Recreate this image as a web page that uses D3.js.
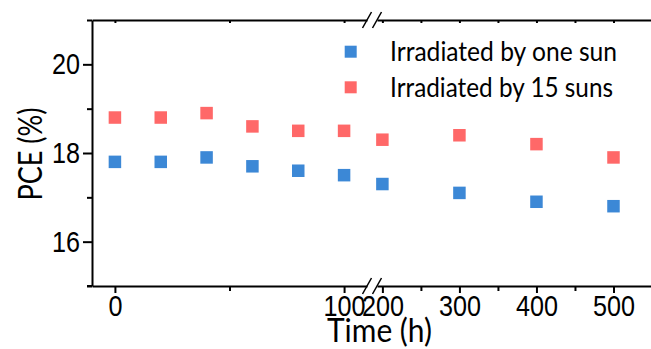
<!DOCTYPE html>
<html>
<head>
<meta charset="utf-8">
<script src="https://cdn.jsdelivr.net/npm/d3@7"></script>
<style>
  html, body { margin: 0; padding: 0; background: #fff; }
  svg { display: block; font-family: Lato, "Open Sans", sans-serif; }
  .axis path, .axis line { stroke: #000; stroke-width: 2px; }
</style>
</head>
<body>
<div id="chart"></div>
<script>
// time (h) and PCE (%)
const hours = [0, 20, 40, 60, 80, 100, 200, 300, 400, 500];
const oneSun = [17.8, 17.8, 17.9, 17.7, 17.6, 17.5, 17.3, 17.1, 16.9, 16.8];
const fifteenSuns = [18.8, 18.8, 18.9, 18.6, 18.5, 18.5, 18.3, 18.4, 18.2, 17.9];
const seriesNames = ['Irradiated by one sun', 'Irradiated by 15 suns'];
const seriesColors = ['#3c88d6', '#ff6868'];
const yTicks = [16, 18, 20];
const yMinor = [15, 17, 19, 21];
const xTicksEarly = [0, 100];
const xMinorEarly = [50];
const xTicksLate = [200, 300, 400, 500];
const xMinorLate = [250, 350, 450];

const W = 651, H = 349;
const svg = d3.select('#chart').append('svg')
  .attr('width', W)
  .attr('height', H);

// broken x axis: two linear pieces
const xl = d3.scaleLinear().domain([-10, 110]).range([92, 367]);
const xr = d3.scaleLinear().domain([193, 550]).range([377, 652]);
const x = t => (t <= 100 ? xl(t) : xr(t));
const y = d3.scaleLinear().domain([15, 21]).range([286, 20]);

const fmt = d3.format('d');
const charW = 14;
function squeeze(sel) {
  sel.selectAll('text')
    .style('font-size', '30px')
    .attr('fill', '#000')
    .attr('textLength', d => fmt(d).length * charW)
    .attr('lengthAdjust', 'spacingAndGlyphs');
}

// y axis
svg.append('g')
  .attr('class', 'axis')
  .attr('transform', 'translate(92,0)')
  .call(d3.axisLeft(y).tickValues(yMinor).tickSize(5).tickSizeOuter(0).tickFormat(''));
svg.append('g')
  .attr('class', 'axis')
  .attr('transform', 'translate(92,0)')
  .call(d3.axisLeft(y).tickValues(yTicks).tickSize(9).tickPadding(3).tickSizeOuter(0).tickFormat(fmt))
  .call(g => g.select('.domain').remove())
  .call(squeeze);

// bottom axes
[[xl, xTicksEarly, xMinorEarly], [xr, xTicksLate, xMinorLate]].forEach(([sc, major, minor]) => {
  svg.append('g')
    .attr('class', 'axis')
    .attr('transform', 'translate(0,286)')
    .call(d3.axisBottom(sc).tickValues(minor).tickSize(5).tickSizeOuter(0).tickFormat(''));
  svg.append('g')
    .attr('class', 'axis')
    .attr('transform', 'translate(0,286)')
    .call(d3.axisBottom(sc).tickValues(major).tickSize(7).tickPadding(2).tickSizeOuter(0).tickFormat(fmt))
    .call(g => g.select('.domain').remove())
    .call(squeeze);
  // top axis, small inward ticks
  svg.append('g')
    .attr('class', 'axis')
    .attr('transform', 'translate(0,20)')
    .call(d3.axisTop(sc).tickValues(major.concat(minor)).tickSize(-3).tickSizeOuter(0).tickFormat(''));
});

// left stub of the bottom axis
svg.append('line')
  .attr('x1', 87).attr('x2', 92)
  .attr('y1', 286).attr('y2', 286)
  .attr('stroke', '#000').attr('stroke-width', 2);

// break marks
[20, 286].forEach(yy => {
  [xl.range()[1], xr.range()[0]].forEach(cx => {
    svg.append('line')
      .attr('x1', cx - 4.5).attr('y1', yy + 8)
      .attr('x2', cx + 4.5).attr('y2', yy - 8)
      .attr('stroke', '#000').attr('stroke-width', 1.5);
  });
});

// data points
const size = 12.5;
[fifteenSuns, oneSun].forEach((vals, k) => {
  const color = k === 0 ? seriesColors[1] : seriesColors[0];
  svg.append('g').selectAll('rect')
    .data(hours.map((h, i) => ({ h, v: vals[i] })))
    .join('rect')
    .attr('x', d => x(d.h) - size / 2)
    .attr('y', d => y(d.v) - size / 2)
    .attr('width', size)
    .attr('height', size)
    .attr('fill', color);
});

// legend
const legend = svg.append('g');
const legendWidths = [227, 223];
seriesNames.forEach((name, i) => {
  const cy = 51.7 + i * 35.6;
  legend.append('rect')
    .attr('x', 350.7 - 6).attr('y', cy - 6)
    .attr('width', 12).attr('height', 12)
    .attr('fill', seriesColors[i]);
  legend.append('text')
    .attr('x', 390).attr('y', cy + 9.6)
    .style('font-size', '27px')
    .attr('textLength', legendWidths[i])
    .attr('lengthAdjust', 'spacingAndGlyphs')
    .text(name);
});

// axis titles
svg.append('text')
  .attr('x', 327).attr('y', 342)
  .style('font-size', '32px')
  .attr('textLength', 105)
  .attr('lengthAdjust', 'spacingAndGlyphs')
  .text('Time (h)');

svg.append('text')
  .attr('transform', 'translate(41.5,154) rotate(-90)')
  .attr('text-anchor', 'middle')
  .style('font-size', '33px')
  .attr('textLength', 93)
  .attr('lengthAdjust', 'spacingAndGlyphs')
  .text('PCE (%)');
</script>
</body>
</html>
